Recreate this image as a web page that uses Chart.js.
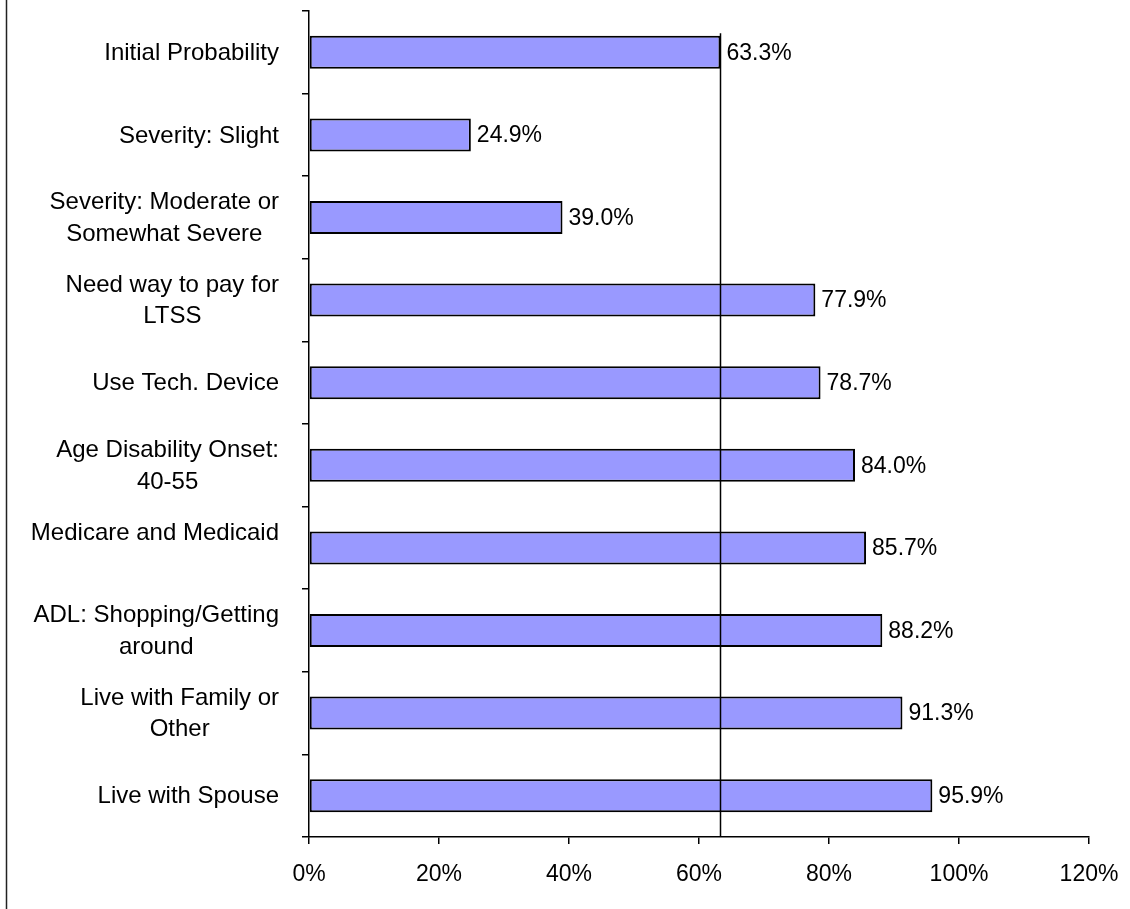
<!DOCTYPE html>
<html>
<head>
<meta charset="utf-8">
<script src="https://cdn.jsdelivr.net/npm/chart.js@4"></script>
<style>
  html,body{margin:0;padding:0;background:#fff;}
  #wrap{width:1130px;height:909px;position:relative;}
</style>
</head>
<body>
<div id="wrap"><canvas id="c"></canvas></div>
<script>
(function(){
  'use strict';

  // data
  const categories = [
    ['Initial Probability'],
    ['Severity: Slight'],
    ['Severity: Moderate or', 'Somewhat Severe'],
    ['Need way to pay for', 'LTSS'],
    ['Use Tech. Device'],
    ['Age Disability Onset:', '40-55'],
    ['Medicare and Medicaid', ''],
    ['ADL: Shopping/Getting', 'around'],
    ['Live with Family or', 'Other'],
    ['Live with Spouse']
  ];
  const values = [63.3, 24.9, 39.0, 77.9, 78.7, 84.0, 85.7, 88.2, 91.3, 95.9];
  const refValue = 63.3;
  const xTicks = [0, 20, 40, 60, 80, 100, 120];

  const FONT = '"Liberation Sans", Arial, sans-serif';
  const FS = 23;

  // frame, custom category labels, value labels, reference line
  const extras = {
    id:'extras',
    beforeDraw(chart){
      const {ctx} = chart;
      ctx.save();
      ctx.strokeStyle = '#222'; ctx.lineWidth = 1.5;
      ctx.beginPath(); ctx.moveTo(6.5, 0); ctx.lineTo(6.5, chart.height); ctx.stroke();
      ctx.restore();
    },
    afterDatasetsDraw(chart){
      const {ctx, scales:{x, y}, chartArea} = chart;
      ctx.save();
      // reference line
      const step = (chartArea.bottom - chartArea.top) / categories.length;
      const rx = Math.round(x.getPixelForValue(refValue)) + 0.5;
      ctx.strokeStyle = '#000'; ctx.lineWidth = 1.5;
      ctx.beginPath();
      ctx.moveTo(rx, y.getPixelForValue(0) - step * 0.23);
      ctx.lineTo(rx, chartArea.bottom);
      ctx.stroke();

      // value labels
      ctx.font = FS + 'px ' + FONT;
      ctx.fillStyle = '#000';
      ctx.textBaseline = 'middle';
      ctx.textAlign = 'left';
      values.forEach((v, i)=>{
        ctx.fillText(v.toFixed(1) + '%', x.getPixelForValue(v) + 6, y.getPixelForValue(i) + 1);
      });

      // category labels: block right-aligned, lines centred
      const right = 279, lh = 31.5;
      ctx.font = '24px ' + FONT;
      ctx.textAlign = 'center';
      categories.forEach((lines, i)=>{
        const w = Math.max(...lines.map(l => ctx.measureText(l).width));
        const cx = right - w / 2;
        const cy = y.getPixelForValue(i);
        const top = cy - (lines.length - 1) * lh / 2;
        lines.forEach((l, k)=> ctx.fillText(l, cx, top + k * lh + 1));
      });
      ctx.restore();
    }
  };

  new Chart(document.getElementById('c'), {
    type:'bar',
    data:{
      labels: categories.map(l => l.join(' ')),
      datasets:[{
        data: values,
        backgroundColor:'#9999FF',
        borderColor:'#000',
        borderWidth:2,
        borderSkipped:false,
        categoryPercentage:1,
        barPercentage:0.4
      }]
    },
    options:{
      indexAxis:'y',
      responsive:true,
      maintainAspectRatio:false,
      animation:false,
      events:[],
      layout:{ padding:{ top:11, right:41, left:0, bottom:0 } },
      plugins:{ legend:{ display:false }, tooltip:{ enabled:false } },
      scales:{
        x:{
          min:0, max:120,
          afterBuildTicks(s){ s.ticks = xTicks.map(v => ({value:v})); },
          afterFit(s){ s.height = 72; s.paddingLeft = 0; s.paddingRight = 0; },
          border:{ color:'#000', width:1.5 },
          grid:{ drawOnChartArea:false, drawTicks:true, tickLength:7, color:'#000', lineWidth:1.5 },
          ticks:{ color:'#000', padding:17, maxRotation:0, font:{ family:FONT, size:FS },
                  callback:v => v + '%' }
        },
        y:{
          afterFit(s){ s.width = 309; },
          border:{ color:'#000', width:1.5 },
          grid:{ offset:true, drawOnChartArea:false, drawTicks:true, tickLength:7, color:'#000', lineWidth:1.5 },
          ticks:{ display:false }
        }
      }
    },
    plugins:[extras]
  });
})();
</script>
</body>
</html>
